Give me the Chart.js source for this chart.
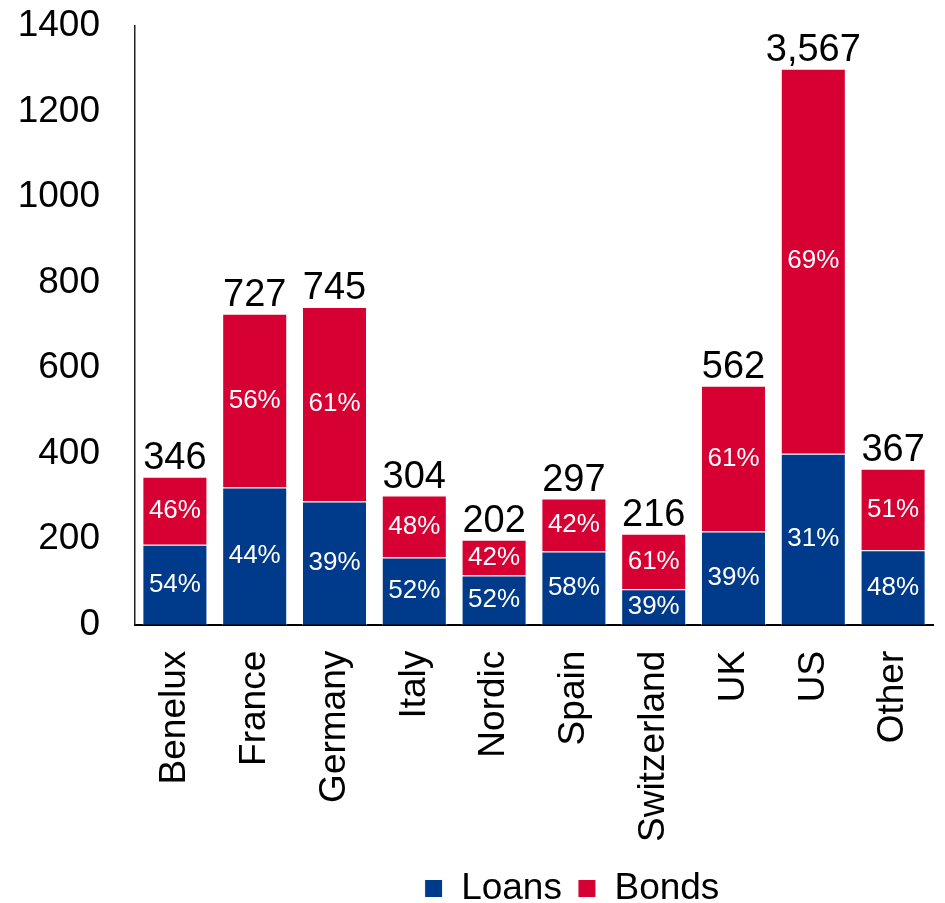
<!DOCTYPE html>
<html>
<head>
<meta charset="utf-8">
<script src="https://cdn.jsdelivr.net/npm/chart.js@4"></script>
<style>
  html, body { margin: 0; padding: 0; background: #fff; }
  #wrap { width: 945px; height: 903px; }
</style>
</head>
<body>
<div id="wrap"><canvas id="chart" width="945" height="903"></canvas></div>
<script>
// data (US bar is cut at 1300 in the original)
const countries = ['Benelux', 'France', 'Germany', 'Italy', 'Nordic', 'Spain', 'Switzerland', 'UK', 'US', 'Other'];
const loans = [187, 321, 288, 157, 115, 171, 83, 218, 400, 174];
const bonds = [159, 406, 455, 145, 84, 124, 130, 341, 900, 191];
const totalLabels = ['346', '727', '745', '304', '202', '297', '216', '562', '3,567', '367'];
const loanPct = ['54%', '44%', '39%', '52%', '52%', '58%', '39%', '39%', '31%', '48%'];
const bondPct = ['46%', '56%', '61%', '48%', '42%', '42%', '61%', '61%', '69%', '51%'];
const yTicks = [0, 200, 400, 600, 800, 1000, 1200, 1400];

const FONT = 'Liberation Sans, Arial, sans-serif';

// üîπ labels on and above the bars
const barLabels = {
    id: 'barLabels',
    afterLayout(chart) {
        // legend sits a bit right of centre and lower in the original
        const lg = chart.legend;
        lg.left += 38;
        lg.right += 38;
        lg.top += 14;
        lg.bottom += 14;
    },
    afterDatasetsDraw(chart) {
        const ctx = chart.ctx;
        const loanBars = chart.getDatasetMeta(0).data;
        const bondBars = chart.getDatasetMeta(1).data;
        ctx.save();
        ctx.textAlign = 'center';
        ctx.textBaseline = 'middle';
        ctx.fillStyle = '#fff';
        ctx.font = '26px ' + FONT;
        loanBars.forEach((bar, i) => {
            ctx.fillText(loanPct[i], bar.x, (bar.y + bar.base) / 2);
        });
        bondBars.forEach((bar, i) => {
            ctx.fillText(bondPct[i], bar.x, (bar.y + bar.base) / 2);
        });
        ctx.fillStyle = '#000';
        ctx.font = '38px ' + FONT;
        ctx.textBaseline = 'alphabetic';
        bondBars.forEach((bar, i) => {
            ctx.fillText(totalLabels[i], bar.x, bar.y - 8);
        });
        ctx.restore();
    }
};

new Chart(document.getElementById('chart').getContext('2d'), {
    type: 'bar',
    data: {
        labels: countries,
        datasets: [
            {
                label: 'Loans',
                data: loans,
                backgroundColor: '#003A8A',
                borderColor: '#fff',
                borderWidth: 1,
                categoryPercentage: 0.815,
                barPercentage: 1
            },
            {
                label: 'Bonds',
                data: bonds,
                backgroundColor: '#D70032',
                borderColor: '#fff',
                borderWidth: 1,
                categoryPercentage: 0.815,
                barPercentage: 1
            }
        ]
    },
    options: {
        responsive: false,
        animation: false,
        layout: { padding: { left: 16, right: 12, top: 26, bottom: 0 } },
        plugins: {
            tooltip: { enabled: false },
            legend: {
                position: 'bottom',
                fullSize: false,
                labels: {
                    color: '#000',
                    font: { family: FONT, size: 37 },
                    boxWidth: 18,
                    boxHeight: 18,
                    padding: 16
                }
            }
        },
        scales: {
            x: {
                stacked: true,
                grid: { display: false, drawTicks: false },
                border: { display: true, color: '#000', width: 2 },
                afterFit: s => {
                    s.paddingLeft = 0;
                    s.paddingRight = 0;
                    s.height -= 28;
                },
                ticks: {
                    color: '#000',
                    font: { family: FONT, size: 37 },
                    minRotation: 90,
                    maxRotation: 90,
                    padding: 26
                }
            },
            y: {
                stacked: true,
                min: 0,
                max: 1400,
                afterBuildTicks: axis => { axis.ticks = yTicks.map(v => ({ value: v })); },
                afterFit: s => {
                    s.paddingTop = 0;
                    s.paddingBottom = 0;
                    s.width = 119;
                },
                grid: { display: false, drawTicks: false },
                border: { display: true, color: '#222', width: 1.5 },
                ticks: {
                    color: '#000',
                    font: { family: FONT, size: 37 },
                    padding: 35,
                    callback: v => String(v)
                }
            }
        }
    },
    plugins: [barLabels]
});
</script>
</body>
</html>
